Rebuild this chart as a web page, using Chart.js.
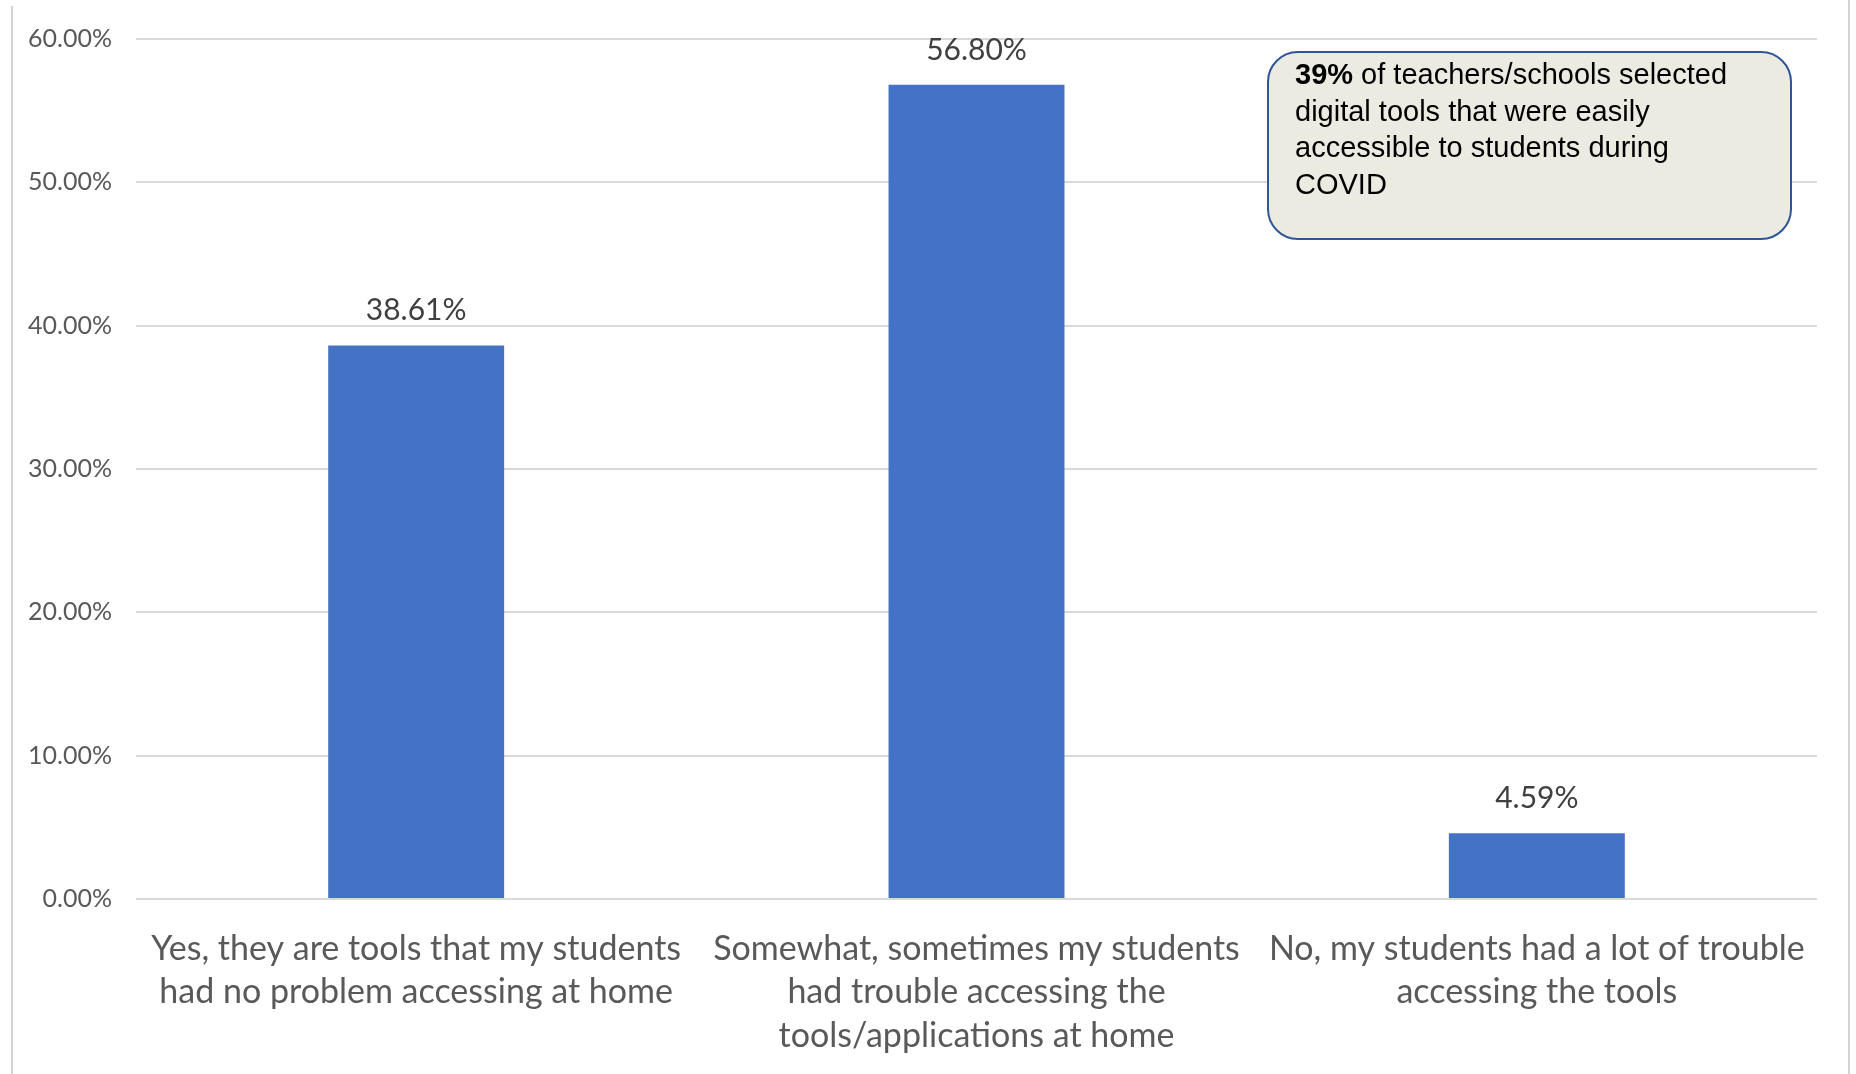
<!DOCTYPE html>
<html>
<head>
<meta charset="utf-8">
<script src="https://cdn.jsdelivr.net/npm/chart.js@4"></script>
<style>
  html, body { margin: 0; padding: 0; background: #fff; }
  #wrap { width: 1856px; height: 1074px; }
</style>
</head>
<body>
<div id="wrap"><canvas id="accessChart" width="1856" height="1074"></canvas></div>
<script>
// data
const categories = [
  ['Yes, they are tools that my students', 'had no problem accessing at home'],
  ['Somewhat, sometimes my students', 'had trouble accessing the', 'tools/applications at home'],
  ['No, my students had a lot of trouble', 'accessing the tools'],
];
const shares = [38.61, 56.80, 4.59];
const yMin = 0;
const yMax = 60;
const yStep = 10;

const calloutBold = '39%';
const calloutLines = [
  ' of teachers/schools selected',
  'digital tools that were easily',
  'accessible to students during',
  'COVID',
];

const BAR_BLUE = '#4472c4';
const LABEL_FONT = "Lato, 'Open Sans', sans-serif";

// thin grey frame on left and right, like the pasted screenshot
const framePlugin = {
  id: 'frame',
  beforeDraw(chart) {
    const ctx = chart.ctx;
    ctx.save();
    ctx.strokeStyle = '#d4d4d4';
    ctx.lineWidth = 2;
    ctx.beginPath();
    ctx.moveTo(12, 6);
    ctx.lineTo(12, chart.height);
    ctx.moveTo(1849, 0);
    ctx.lineTo(1849, chart.height);
    ctx.stroke();
    ctx.restore();
  },
};

// value labels above the bars
const valueLabels = {
  id: 'valueLabels',
  afterDatasetsDraw(chart) {
    const ctx = chart.ctx;
    const meta = chart.getDatasetMeta(0);
    ctx.save();
    ctx.fillStyle = '#404040';
    ctx.font = '30px ' + LABEL_FONT;
    ctx.textAlign = 'center';
    ctx.textBaseline = 'bottom';
    meta.data.forEach((bar, i) => {
      ctx.fillText(shares[i].toFixed(2) + '%', bar.x, bar.y - 20);
    });
    ctx.restore();
  },
};

function roundRect(ctx, x, y, w, h, r) {
  ctx.beginPath();
  ctx.moveTo(x + r, y);
  ctx.lineTo(x + w - r, y);
  ctx.arcTo(x + w, y, x + w, y + r, r);
  ctx.lineTo(x + w, y + h - r);
  ctx.arcTo(x + w, y + h, x + w - r, y + h, r);
  ctx.lineTo(x + r, y + h);
  ctx.arcTo(x, y + h, x, y + h - r, r);
  ctx.lineTo(x, y + r);
  ctx.arcTo(x, y, x + r, y, r);
  ctx.closePath();
}

// callout box top right
const callout = {
  id: 'callout',
  afterDraw(chart) {
    const ctx = chart.ctx;
    const bx = 1268, by = 52, bw = 523, bh = 187;
    ctx.save();
    roundRect(ctx, bx, by, bw, bh, 30);
    ctx.fillStyle = '#ecebe1';
    ctx.fill();
    ctx.lineWidth = 2;
    ctx.strokeStyle = '#2f5597';
    ctx.stroke();

    ctx.fillStyle = '#000';
    ctx.textBaseline = 'alphabetic';
    ctx.textAlign = 'left';
    const tx = 1295;
    let ty = 84;
    const lh = 36.5;
    ctx.font = 'bold 29px "Liberation Sans", Arial, sans-serif';
    ctx.fillText(calloutBold, tx, ty);
    const bw1 = ctx.measureText(calloutBold).width;
    ctx.font = '29px "Liberation Sans", Arial, sans-serif';
    ctx.fillText(calloutLines[0], tx + bw1, ty);
    for (let i = 1; i < calloutLines.length; i++) {
      ty += lh;
      ctx.fillText(calloutLines[i], tx, ty);
    }
    ctx.restore();
  },
};

new Chart(document.getElementById('accessChart').getContext('2d'), {
  type: 'bar',
  data: {
    labels: categories,
    datasets: [{
      data: shares,
      backgroundColor: BAR_BLUE,
      borderWidth: 0,
      barPercentage: 0.314,
      categoryPercentage: 1.0,
    }],
  },
  options: {
    responsive: false,
    animation: false,
    devicePixelRatio: 1,
    layout: { padding: { top: 38, right: 39, left: 12, bottom: 0 } },
    plugins: {
      legend: { display: false },
      tooltip: { enabled: false },
    },
    scales: {
      x: {
        grid: { display: false, drawTicks: false },
        border: { display: false },
        ticks: {
          color: '#595959',
          font: { size: 34, family: LABEL_FONT, lineHeight: 1.28 },
          padding: 28,
          maxRotation: 0,
          autoSkip: false,
        },
        afterFit(scale) { scale.height = 175; },
      },
      y: {
        min: yMin,
        max: yMax,
        grid: { color: '#d9d9d9', lineWidth: 2, drawTicks: false },
        border: { display: false },
        ticks: {
          stepSize: yStep,
          color: '#595959',
          font: { size: 25, family: LABEL_FONT },
          padding: 24,
          callback: v => v.toFixed(2) + '%',
        },
        afterFit(scale) { scale.width = 124; },
      },
    },
  },
  plugins: [framePlugin, valueLabels, callout],
});
</script>
</body>
</html>
